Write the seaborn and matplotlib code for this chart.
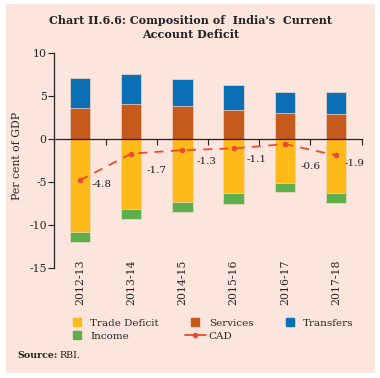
import numpy as np
import matplotlib
matplotlib.use("Agg")
import matplotlib.pyplot as plt
import seaborn as sns
from matplotlib.lines import Line2D
from matplotlib.patches import Rectangle

# data (per cent of GDP)
years = ["2012-13", "2013-14", "2014-15", "2015-16", "2016-17", "2017-18"]
trade_deficit = [-10.8, -8.1, -7.3, -6.3, -5.1, -6.3]
services = [3.6, 4.0, 3.8, 3.3, 3.0, 2.9]
transfers = [3.5, 3.5, 3.2, 3.0, 2.5, 2.5]
income = [-1.1, -1.2, -1.2, -1.2, -1.1, -1.1]
cad = [-4.8, -1.7, -1.3, -1.1, -0.6, -1.9]
cad_labels = ["-4.8", "-1.7", "-1.3", "-1.1", "-0.6", "-1.9"]

BG = "#FCE5DD"
C_TRADE = "#FDBA19"
C_SERV = "#C55A1C"
C_TRANS = "#0B6FB6"
C_INC = "#5EAE4B"
C_CAD = "#EE4A2E"

sns.set_theme(style="white")
plt.rcParams["font.family"] = ["DejaVu Serif"]

fig = plt.figure(figsize=(3.8, 3.78), dpi=100)
fig.patches.append(Rectangle((6 / 380, 1 - 373 / 378), 369 / 380, 369 / 378,
                             transform=fig.transFigure, facecolor=BG,
                             edgecolor="none", zorder=-10))
ax = fig.add_axes([54.3 / 380, 1 - 268.3 / 378, 307.4 / 380, 215.6 / 378])
ax.set_facecolor("none")
ax.set_zorder(2)

# stacked bars: draw the totals first, then overlay the inner segment
pos_total = np.array(services) + np.array(transfers)
neg_total = np.array(trade_deficit) + np.array(income)
bar_kw = dict(width=0.4, edgecolor="#F6D8C8", linewidth=0.5, saturation=1, ax=ax)
sns.barplot(x=years, y=pos_total, color=C_TRANS, **bar_kw)
sns.barplot(x=years, y=services, color=C_SERV, **bar_kw)
sns.barplot(x=years, y=neg_total, color=C_INC, **bar_kw)
sns.barplot(x=years, y=trade_deficit, color=C_TRADE, **bar_kw)

xpos = np.arange(len(years))
sns.lineplot(x=xpos, y=cad, color=C_CAD, marker="o", markersize=4,
             markeredgewidth=0, linewidth=1.3, dashes=(5, 4), ax=ax)
offsets = [(22, -4), (25, -17), (24, -11), (23, -11), (26, -22), (18, -8)]
for i, (v, lab) in enumerate(zip(cad, cad_labels)):
    ax.annotate(lab, (i, v), xytext=offsets[i], textcoords="offset pixels",
                ha="center", va="center", fontsize=7.5, color="#222222")

ax.set_xlim(-0.5, len(years) - 0.5)
ax.set_ylim(-15, 10)
ax.set_yticks([-15, -10, -5, 0, 5, 10])
ax.set_yticklabels(["-15", "-10", "-5", "0", "5", "10"])
ax.tick_params(axis="y", direction="out", length=4, width=0.8, color="#222222",
               labelsize=7.8, pad=1.5, left=True)
ax.set_xticks(np.arange(len(years) + 1) - 0.5)
ax.set_xticklabels([])
ax.tick_params(axis="x", direction="out", length=4, width=0.8, color="#222222",
               bottom=True)
ax.spines["bottom"].set_position(("data", 0))
for s in ["top", "right"]:
    ax.spines[s].set_visible(False)
for s in ["left", "bottom"]:
    ax.spines[s].set_color("#222222")
    ax.spines[s].set_linewidth(0.9)
ax.set_xlabel("")
ax.set_ylabel("Per cent of GDP", fontsize=7.8)
ax.yaxis.set_label_coords(-0.105, 0.52)
ax.grid(False)

for i, y in enumerate(years):
    ax.text(i, 0.042, y, transform=ax.get_xaxis_transform(), rotation=90,
            ha="center", va="top", fontsize=7.8, color="#222222")

fig.text(190.8 / 380, 1 - 20 / 378, "Chart II.6.6: Composition of  India's  Current",
         ha="center", va="center", fontsize=8.0, fontweight="bold", color="#222222")
fig.text(190.8 / 380, 1 - 34.5 / 378, "Account Deficit",
         ha="center", va="center", fontsize=8.0, fontweight="bold", color="#222222")

handles = [
    Line2D([], [], marker="s", linestyle="none", color=C_TRADE, markersize=6),
    Line2D([], [], marker="s", linestyle="none", color=C_INC, markersize=6),
    Line2D([], [], marker="s", linestyle="none", color=C_SERV, markersize=6),
    Line2D([], [], marker="o", color=C_CAD, markersize=3, linewidth=1.3),
    Line2D([], [], marker="s", linestyle="none", color=C_TRANS, markersize=6),
]
labels = ["Trade Deficit", "Income", "Services", "CAD", "Transfers"]
fig.legend(handles, labels, ncol=3, loc="lower left",
           bbox_to_anchor=(62 / 380, 1 - 345 / 378, 296 / 380, 30 / 378),
           mode="expand", frameon=False, fontsize=7.5, handlelength=2.0,
           handletextpad=0.3, labelspacing=0.35, borderaxespad=0)

fig.text(17 / 380, 1 - 355 / 378, "Source:", ha="left", va="center",
         fontsize=6.8, fontweight="bold", color="#222222")
fig.text(59 / 380, 1 - 355 / 378, "RBI.", ha="left", va="center",
         fontsize=6.8, color="#222222")

fig.savefig("out.png", dpi=100, facecolor="white")
